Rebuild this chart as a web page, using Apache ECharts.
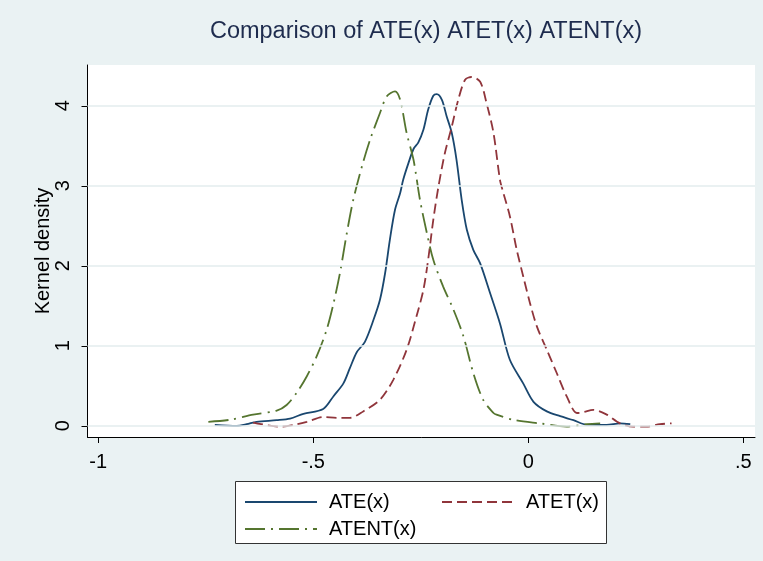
<!DOCTYPE html>
<html>
<head>
<meta charset="utf-8">
<script src="https://cdn.jsdelivr.net/npm/echarts@6/dist/echarts.min.js"></script>
<style>
html,body{margin:0;padding:0;background:#EAF2F3;}
#chart{width:763px;height:561px;}
</style>
</head>
<body>
<div id="chart"></div>
<script>
const titleText = 'Comparison of ATE(x) ATET(x) ATENT(x)';
const yAxisTitle = 'Kernel density';
const xTicks = [-1, -0.5, 0, 0.5];
const xTickLabels = ['-1', '-.5', '0', '.5'];
const yTicks = [0, 1, 2, 3, 4];
const seriesNames = ['ATE(x)', 'ATET(x)', 'ATENT(x)'];

const ateData = [
  [-0.729,0.012],[-0.678,0.0],[-0.655,0.02],[-0.632,0.05],[-0.585,0.07],[-0.554,0.09],
  [-0.523,0.15],[-0.477,0.21],[-0.453,0.37],[-0.430,0.53],[-0.415,0.72],[-0.399,0.92],
  [-0.380,1.05],[-0.360,1.325],[-0.345,1.575],[-0.333,1.91],[-0.322,2.325],[-0.310,2.70],
  [-0.298,2.91],[-0.291,3.075],[-0.279,3.28],[-0.267,3.46],[-0.256,3.54],[-0.244,3.70],
  [-0.233,3.95],[-0.221,4.125],[-0.213,4.146],[-0.201,4.075],[-0.190,3.87],[-0.178,3.66],
  [-0.167,3.325],[-0.155,2.825],[-0.143,2.45],[-0.128,2.2],[-0.112,2.03],[-0.089,1.66],
  [-0.066,1.28],[-0.043,0.825],[-0.012,0.53],[0.012,0.30],[0.043,0.18],[0.074,0.12],
  [0.105,0.07],[0.136,0.012],[0.182,0.01],[0.213,0.03],[0.237,0.02]
];
const atetData = [
  [-0.640,0.04],[-0.577,-0.01],[-0.547,0.01],[-0.515,0.05],[-0.477,0.11],[-0.446,0.10],
  [-0.415,0.10],[-0.384,0.18],[-0.345,0.325],[-0.314,0.575],[-0.283,0.95],[-0.260,1.37],
  [-0.244,1.70],[-0.233,2.075],[-0.221,2.575],[-0.209,2.99],[-0.194,3.41],[-0.178,3.74],
  [-0.163,4.075],[-0.147,4.325],[-0.132,4.36],[-0.112,4.30],[-0.097,4.03],[-0.081,3.66],
  [-0.066,3.075],[-0.058,2.91],[-0.043,2.62],[-0.027,2.20],[-0.012,1.87],[0.004,1.53],
  [0.020,1.24],[0.043,0.95],[0.066,0.66],[0.089,0.37],[0.113,0.16],[0.128,0.17],
  [0.151,0.20],[0.182,0.14],[0.213,0.03],[0.244,-0.01],[0.275,-0.01],[0.306,0.02],[0.333,0.03]
];
const atentData = [
  [-0.744,0.05],[-0.694,0.075],[-0.640,0.14],[-0.585,0.19],[-0.562,0.26],[-0.539,0.41],
  [-0.515,0.62],[-0.492,0.87],[-0.469,1.20],[-0.453,1.53],[-0.438,1.91],[-0.422,2.41],
  [-0.407,2.825],[-0.387,3.24],[-0.368,3.575],[-0.345,3.91],[-0.329,4.12],[-0.310,4.18],
  [-0.298,4.075],[-0.283,3.66],[-0.267,3.325],[-0.252,2.825],[-0.236,2.41],[-0.221,2.075],
  [-0.198,1.74],[-0.174,1.45],[-0.151,1.12],[-0.128,0.66],[-0.105,0.325],[-0.081,0.16],
  [-0.074,0.14],[-0.035,0.075],[0.027,0.03],[0.089,-0.01],[0.136,0.02],[0.167,0.03]
];

const FONT = '"Liberation Sans", Arial, sans-serif';
const colors = ['#1A476F', '#90353B', '#55752F'];
const dashes = ['solid', [10, 5], [20, 6, 2, 6]];
const datasets = [ateData, atetData, atentData];

const chart = echarts.init(document.getElementById('chart'), null, {renderer: 'canvas'});

const series = seriesNames.map((name, i) => ({
  name: name,
  type: 'line',
  data: datasets[i],
  smooth: 0.3,
  showSymbol: false,
  symbol: 'none',
  silent: true,
  z: 3,
  lineStyle: {color: colors[i], width: 1.8, type: dashes[i]},
  itemStyle: {color: colors[i]}
}));

series.push({
  name: 'grid',
  type: 'line',
  data: [],
  silent: true,
  z: 1,
  markLine: {
    silent: true,
    symbol: 'none',
    label: {show: false},
    lineStyle: {color: '#E3ECEE', width: 1.5, type: 'solid'},
    data: yTicks.map(v => ({yAxis: v}))
  }
});

const legendTextStyle = {fontFamily: FONT, fontSize: 20, color: '#000', padding: [0, 0, 0, 7]};
const legendPos = [[244, 492], [441, 492], [244, 519]];
const legends = seriesNames.map((name, i) => ({
  data: [name],
  left: legendPos[i][0],
  top: legendPos[i][1],
  itemWidth: 72,
  itemHeight: 14,
  padding: 0,
  selectedMode: false,
  z: 10,
  itemStyle: {opacity: 0, borderWidth: 0},
  textStyle: legendTextStyle
}));

chart.setOption({
  animation: false,
  backgroundColor: '#EAF2F3',
  title: {
    text: titleText,
    left: 421,
    top: 15,
    textAlign: 'center',
    textStyle: {fontFamily: FONT, fontSize: 23.5, fontWeight: 'normal', color: '#1E2C4E'}
  },
  graphic: [
    {type: 'rect', z: -1, shape: {x: 235.5, y: 481.5, width: 371, height: 62}, style: {fill: '#ffffff', stroke: '#333', lineWidth: 1}, silent: true}
  ],
  legend: legends,
  grid: {left: 87.5, right: 8, top: 65, bottom: 124, backgroundColor: '#ffffff', show: true, borderWidth: 0},
  xAxis: {
    type: 'value',
    min: -1.025,
    max: 0.527,
    axisLine: {show: true, onZero: false, lineStyle: {color: '#000', width: 1}},
    axisTick: {show: true, length: 6, customValues: xTicks, lineStyle: {color: '#000'}},
    axisLabel: {
      customValues: xTicks,
      margin: 15,
      fontFamily: FONT, fontSize: 20, color: '#000',
      formatter: v => { const k = xTicks.findIndex(t => Math.abs(t - v) < 1e-9); return k >= 0 ? xTickLabels[k] : ''; }
    },
    splitLine: {show: false}
  },
  yAxis: {
    type: 'value',
    min: -0.14,
    max: 4.51,
    name: yAxisTitle,
    nameLocation: 'middle',
    nameGap: 34,
    nameMoveOverlap: false,
    nameRotate: 90,
    nameTextStyle: {fontFamily: FONT, fontSize: 20, color: '#000'},
    axisLine: {show: true, onZero: false, lineStyle: {color: '#000', width: 1}},
    axisTick: {show: true, length: 6, customValues: yTicks, lineStyle: {color: '#000'}},
    axisLabel: {
      customValues: yTicks,
      rotate: 90,
      margin: 14,
      fontFamily: FONT, fontSize: 20, color: '#000'
    },
    splitLine: {show: false}
  },
  series: series
});
</script>
</body>
</html>
